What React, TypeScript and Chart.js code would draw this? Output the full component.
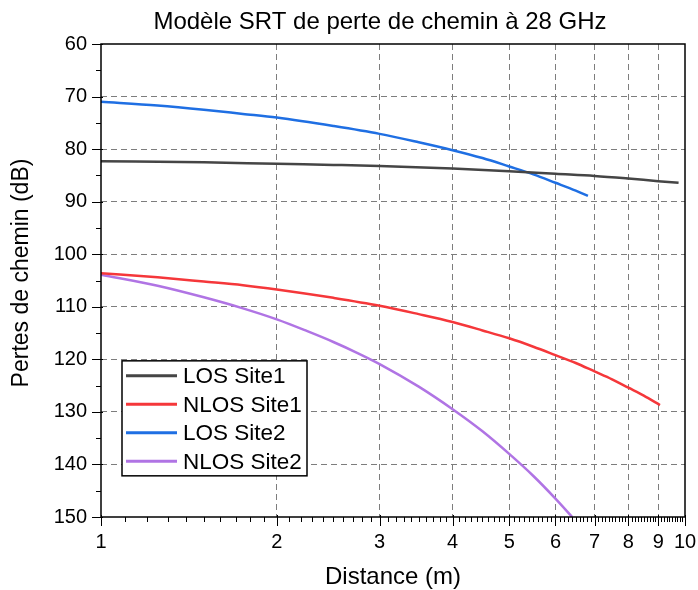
import React, { useEffect, useRef } from "react";
import { Chart, registerables } from "chart.js";

Chart.register(...registerables);

const chartTitle = "Modèle SRT de perte de chemin à 28 GHz";
const xAxisTitle = "Distance (m)";
const yAxisTitle = "Pertes de chemin (dB)";

const seriesNames = ["LOS Site1", "NLOS Site1", "LOS Site2", "NLOS Site2"];
const seriesColors = ["#454545", "#f5373a", "#1f6fe3", "#b074e4"];

const distLosSite1 = [1, 1.5, 2, 2.5, 3, 4, 5, 6, 7, 8, 9, 9.75];
const lossLosSite1 = [82.3, 82.5, 82.8, 83.0, 83.2, 83.7, 84.2, 84.7, 85.1, 85.6, 86.1, 86.4];

const distNlosSite1 = [1, 1.25, 1.5, 1.75, 2, 2.5, 3, 3.5, 4, 4.5, 5, 5.5, 6, 6.5, 7, 7.5, 8, 8.5, 9.06];
const lossNlosSite1 = [103.6, 104.4, 105.2, 105.9, 106.7, 108.3, 109.8, 111.4, 112.9, 114.5, 116.0, 117.6, 119.2, 120.7, 122.3, 123.8, 125.4, 126.9, 128.7];

const distLosSite2 = [1, 1.25, 1.5, 1.75, 2, 2.5, 3, 3.5, 4, 4.5, 5, 5.5, 6, 6.5, 6.82];
const lossLosSite2 = [71.0, 71.7, 72.5, 73.3, 74.0, 75.6, 77.1, 78.7, 80.2, 81.7, 83.3, 84.8, 86.4, 87.9, 88.9];

const distNlosSite2 = [1, 1.25, 1.5, 1.75, 2, 2.25, 2.5, 2.75, 3, 3.5, 4, 4.5, 5, 5.5, 6, 6.41];
const lossNlosSite2 = [103.9, 106.0, 108.2, 110.3, 112.4, 114.6, 116.7, 118.8, 120.9, 125.2, 129.5, 133.7, 138.0, 142.2, 146.5, 150.0];

const xMajorTicks = [1, 2, 3, 4, 5, 6, 7, 8, 9, 10];
const yMajorTicks = [60, 70, 80, 90, 100, 110, 120, 130, 140, 150];

const FONT = "'Liberation Sans', Arial, sans-serif";

function pts(xs: number[], ys: number[]) {
  return xs.map((x, i) => ({ x, y: ys[i] }));
}

const decorPlugin = {
  id: "decor",
  afterDraw(chart: any) {
    const { ctx, chartArea } = chart;
    const xs = chart.scales.x;
    const ys = chart.scales.y;
    const { left, right, top, bottom } = chartArea;
    ctx.save();
    // frame
    ctx.strokeStyle = "#000";
    ctx.lineWidth = 1.5;
    ctx.setLineDash([]);
    ctx.strokeRect(left, top, right - left, bottom - top);
    ctx.lineWidth = 1;
    // y ticks
    for (let v = 60; v <= 150; v += 5) {
      const y = Math.round(ys.getPixelForValue(v)) + 0.5;
      const major = v % 10 === 0;
      ctx.beginPath();
      ctx.moveTo(left - (major ? 9 : 5), y);
      ctx.lineTo(left + (major ? 2 : 0), y);
      ctx.stroke();
    }
    // x ticks
    for (let k = 10; k <= 100; k++) {
      const v = k / 10;
      const x = Math.round(xs.getPixelForValue(v)) + 0.5;
      const major = k % 10 === 0;
      ctx.beginPath();
      ctx.moveTo(x, bottom + (major ? 9 : 5));
      ctx.lineTo(x, bottom - (major ? 2 : 0));
      ctx.stroke();
    }
    // title
    ctx.fillStyle = "#000";
    ctx.font = `24px ${FONT}`;
    ctx.textAlign = "center";
    ctx.textBaseline = "alphabetic";
    ctx.fillText(chartTitle, 380, 29);
    // x axis title
    ctx.font = `24px ${FONT}`;
    ctx.fillText(xAxisTitle, (left + right) / 2, 584);
    // y axis title
    ctx.save();
    ctx.translate(22, 273);
    ctx.rotate(-Math.PI / 2);
    ctx.font = `23px ${FONT}`;
    ctx.textBaseline = "middle";
    ctx.fillText(yAxisTitle, 0, 0);
    ctx.restore();
    // legend
    const bx = left + 21;
    const by = ys.getPixelForValue(120) + 1.5;
    const bw = 185;
    const bh = 115;
    ctx.fillStyle = "#fff";
    ctx.fillRect(bx, by, bw, bh);
    ctx.strokeStyle = "#000";
    ctx.lineWidth = 1.5;
    ctx.strokeRect(bx, by, bw, bh);
    ctx.font = `22.5px ${FONT}`;
    ctx.textAlign = "left";
    ctx.textBaseline = "middle";
    seriesNames.forEach((name, i) => {
      const cy = by + 15 + i * 28.5;
      ctx.strokeStyle = seriesColors[i];
      ctx.lineWidth = 3;
      ctx.beginPath();
      ctx.moveTo(bx + 4, cy);
      ctx.lineTo(bx + 55, cy);
      ctx.stroke();
      ctx.fillStyle = "#000";
      ctx.fillText(name, bx + 61, cy + 1);
    });
    ctx.restore();
  },
};

export default function App() {
  const ref = useRef<HTMLCanvasElement>(null);
  useEffect(() => {
    if (!ref.current) return;
    const series = [
      pts(distLosSite1, lossLosSite1),
      pts(distNlosSite1, lossNlosSite1),
      pts(distLosSite2, lossLosSite2),
      pts(distNlosSite2, lossNlosSite2),
    ];
    const chart = new Chart(ref.current, {
      type: "scatter",
      data: {
        datasets: series.map((d, i) => ({
          label: seriesNames[i],
          data: d,
          showLine: true,
          borderColor: seriesColors[i],
          backgroundColor: seriesColors[i],
          borderWidth: 2.5,
          pointRadius: 0,
          cubicInterpolationMode: "monotone",
        })),
      },
      options: {
        responsive: false,
        animation: false,
        devicePixelRatio: 1,
        layout: { padding: { left: 0, top: 44, right: 13, bottom: 0 } },
        plugins: {
          legend: { display: false },
          title: { display: false },
          tooltip: { enabled: false },
        },
        scales: {
          x: {
            type: "logarithmic",
            min: 1,
            max: 10,
            afterBuildTicks: (scale: any) => {
              const t = [];
              for (let k = 10; k <= 100; k++) t.push({ value: k / 10 });
              scale.ticks = t;
            },
            afterFit: (scale: any) => {
              scale.height = 73;
              scale.paddingLeft = 0;
              scale.paddingRight = 0;
            },
            ticks: {
              autoSkip: false,
              maxRotation: 0,
              minRotation: 0,
              padding: 13,
              color: "#000",
              font: { family: FONT, size: 20 },
              callback: (v: any) => {
                const n = Number(v);
                return xMajorTicks.some((m) => Math.abs(m - n) < 1e-6) ? String(Math.round(n)) : "";
              },
            },
            grid: {
              drawTicks: false,
              color: (c: any) => {
                const n = c.tick ? c.tick.value : 0;
                const isMaj = xMajorTicks.some((m) => Math.abs(m - n) < 1e-6);
                return isMaj && n > 1.5 && n < 9.5 ? "#7d7d7d" : "rgba(0,0,0,0)";
              },
              lineWidth: 1,
            },
            border: { display: false, dash: [6, 4] },
          },
          y: {
            type: "linear",
            reverse: true,
            min: 60,
            max: 150,
            afterBuildTicks: (scale: any) => {
              const t = [];
              for (let v = 60; v <= 150; v += 5) t.push({ value: v });
              scale.ticks = t;
            },
            afterFit: (scale: any) => {
              scale.width = 101;
              scale.paddingTop = 0;
              scale.paddingBottom = 0;
            },
            ticks: {
              autoSkip: false,
              padding: 14,
              color: "#000",
              font: { family: FONT, size: 20 },
              callback: (v: any) => (yMajorTicks.includes(Number(v)) ? String(v) : ""),
            },
            grid: {
              drawTicks: false,
              color: (c: any) => {
                const n = c.tick ? c.tick.value : 0;
                return n % 10 === 0 && n > 60 && n < 150 ? "#7d7d7d" : "rgba(0,0,0,0)";
              },
              lineWidth: 1,
            },
            border: { display: false, dash: [6, 4] },
          },
        },
      },
      plugins: [decorPlugin],
    } as any);
    return () => chart.destroy();
  }, []);
  return (
    <div style={{ position: "fixed", left: 0, top: 0, width: 698, height: 590, background: "#fff" }}>
      <canvas ref={ref} width={698} height={590} style={{ width: 698, height: 590 }} />
    </div>
  );
}
